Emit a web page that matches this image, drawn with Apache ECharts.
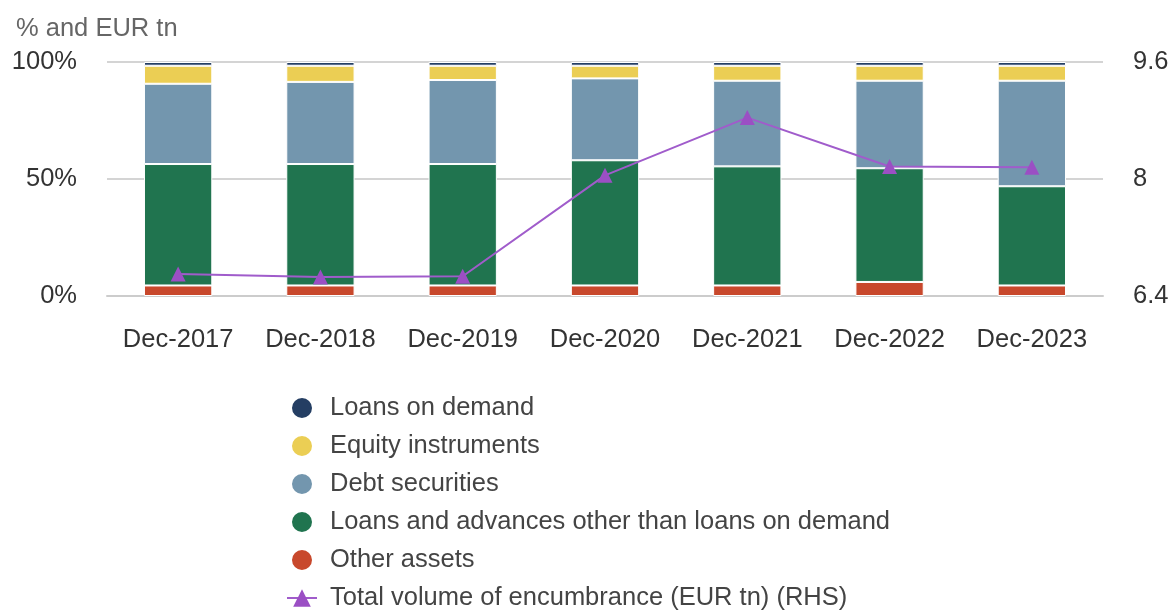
<!DOCTYPE html>
<html>
<head>
<meta charset="utf-8">
<script src="https://cdn.jsdelivr.net/npm/echarts@6/dist/echarts.min.js"></script>
<style>
    html, body { margin: 0; padding: 0; background: #fff; }
    #main { width: 1174px; height: 610px; }
</style>
</head>
<body>
<div id="main"></div>
<script>
var categories = ["Dec-2017", "Dec-2018", "Dec-2019", "Dec-2020", "Dec-2021", "Dec-2022", "Dec-2023"];
var otherAssets = [4.5, 4.5, 4.5, 4.5, 4.5, 6.0, 4.5];
var loansAdvances = [51.9, 51.9, 51.9, 53.5, 50.9, 48.6, 42.4];
var debtSecurities = [34.3, 35.1, 35.9, 35.0, 36.6, 37.4, 45.1];
var equityInstruments = [7.7, 6.9, 6.1, 5.4, 6.4, 6.4, 6.4];
var loansOnDemand = [1.6, 1.6, 1.6, 1.6, 1.6, 1.6, 1.6];
var totalEncumbrance = [6.70, 6.66, 6.67, 8.05, 8.84, 8.17, 8.16];

var names = ["Loans on demand", "Equity instruments", "Debt securities",
    "Loans and advances other than loans on demand", "Other assets",
    "Total volume of encumbrance (EUR tn) (RHS)"];

var font = "Liberation Sans, Arial, sans-serif";
var fs = 25.5;
var myChart = echarts.init(document.getElementById("main"));

function barSeries(name, data, color) {
    return {
        name: name,
        type: "bar",
        stack: "share",
        barWidth: "48%",
        data: data,
        itemStyle: {
            color: color,
            borderColor: "#fff",
            borderWidth: 1
        }
    };
}

var option = {
    animation: false,
    textStyle: { fontFamily: font },
    title: {
        text: "% and EUR tn",
        left: 11,
        top: 11,
        textStyle: { fontSize: fs, fontWeight: "normal", color: "#666", fontFamily: font }
    },
    legend: {
        orient: "vertical",
        left: 281,
        top: 390,
        height: 260,
        itemWidth: 30,
        itemHeight: 22,
        itemGap: 12,
        textStyle: { fontSize: fs, color: "#444", fontFamily: font, padding: [0, 0, 0, 8] },
        data: [
            { name: names[0], icon: "circle" },
            { name: names[1], icon: "circle" },
            { name: names[2], icon: "circle" },
            { name: names[3], icon: "circle" },
            { name: names[4], icon: "circle" },
            { name: names[5] }
        ]
    },
    grid: {
        left: 107,
        right: 71,
        top: 62,
        bottom: 314
    },
    xAxis: {
        type: "category",
        data: categories,
        axisTick: { show: false },
        axisLine: { lineStyle: { color: "#ccc", width: 2 } },
        axisLabel: { interval: 0, fontSize: fs, color: "#333", margin: 31, fontFamily: font }
    },
    yAxis: [
        {
            type: "value",
            min: 0,
            max: 100,
            interval: 50,
            axisLabel: { formatter: "{value}%", fontSize: fs, color: "#333", margin: 30, fontFamily: font },
            splitLine: { lineStyle: { color: "#d4d4d4", width: 2 } },
            axisLine: { show: false },
            axisTick: { show: false }
        },
        {
            type: "value",
            min: 6.4,
            max: 9.6,
            interval: 1.6,
            position: "right",
            axisLabel: { fontSize: fs, color: "#333", margin: 30, fontFamily: font },
            splitLine: { show: false },
            axisLine: { show: false },
            axisTick: { show: false }
        }
    ],
    series: [
        barSeries(names[4], otherAssets, "#c8482c"),
        barSeries(names[3], loansAdvances, "#20744f"),
        barSeries(names[2], debtSecurities, "#7396ae"),
        barSeries(names[1], equityInstruments, "#ebce54"),
        barSeries(names[0], loansOnDemand, "#243e63"),
        {
            name: names[5],
            type: "line",
            yAxisIndex: 1,
            data: totalEncumbrance,
            symbol: "triangle",
            symbolSize: 15,
            lineStyle: { color: "#a05ccb", width: 2 },
            itemStyle: { color: "#9b4fc4" }
        }
    ]
};

myChart.setOption(option);
</script>
</body>
</html>
